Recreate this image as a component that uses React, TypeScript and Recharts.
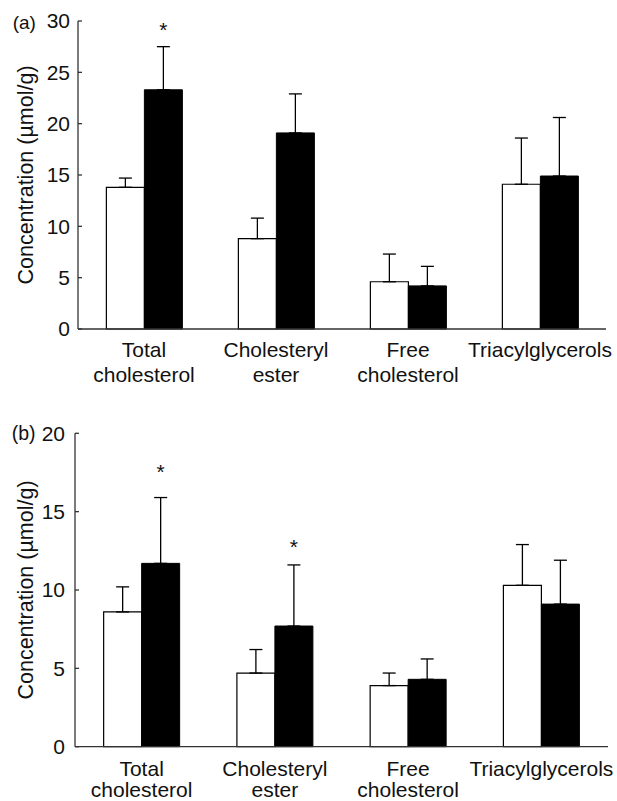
import React from 'react';
import { BarChart, Bar, XAxis, YAxis, ErrorBar, LabelList } from 'recharts';

const categories = ['Total\ncholesterol', 'Cholesteryl\nester', 'Free\ncholesterol', 'Triacylglycerols'];

// panel (a)
const aWhite = [13.8, 8.8, 4.6, 14.1];
const aWhiteSd = [0.9, 2.0, 2.7, 4.5];
const aBlack = [23.3, 19.1, 4.2, 14.9];
const aBlackSd = [4.2, 3.8, 1.9, 5.7];
const aStar = [29.6, null, null, null];
const aTicks = [0, 5, 10, 15, 20, 25, 30];

// panel (b)
const bWhite = [8.6, 4.7, 3.9, 10.3];
const bWhiteSd = [1.6, 1.5, 0.8, 2.6];
const bBlack = [11.7, 7.7, 4.3, 9.1];
const bBlackSd = [4.2, 3.9, 1.3, 2.8];
const bStar = [17.8, 13.0, null, null];
const bTicks = [0, 5, 10, 15, 20];

const FONT = '"Liberation Sans", Arial, Helvetica, sans-serif';
const INK = '#111';
const AXIS = '#333';

function buildRows(white: number[], whiteSd: number[], black: number[], blackSd: number[], star: (number | null)[]) {
  return categories.map((name, i) => ({
    name,
    white: white[i],
    whiteErr: [0, whiteSd[i]],
    black: black[i],
    blackErr: [0, blackSd[i]],
    star: star[i],
  }));
}

const CategoryTick = (props: any) => {
  const { x, y, payload, firstDy, lineGap } = props;
  const lines = String(payload.value).split('\n');
  return (
    <text x={x} y={y + firstDy} textAnchor="middle" fontSize={21} fill={INK} fontFamily={FONT}>
      {lines.map((l, i) => (
        <tspan key={i} x={x} dy={i === 0 ? 0 : lineGap}>
          {l}
        </tspan>
      ))}
    </text>
  );
};

const makeStar = (values: number[], stars: (number | null)[]) => (props: any) => {
  const { x, y, width, height, index } = props;
  const s = stars[index];
  if (s == null) return null;
  const perUnit = Math.abs(height) / values[index];
  const base = y + Math.abs(height);
  const cy = base - s * perUnit;
  return (
    <text x={x + width / 2} y={cy + 11.5} textAnchor="middle" fontSize={21} fill={INK} fontFamily={FONT}>
      *
    </text>
  );
};

const YLabel = (cx: number) => (props: any) => {
  const { viewBox } = props;
  const cy = viewBox.y + viewBox.height / 2;
  return (
    <text x={cx} y={cy} transform={`rotate(-90, ${cx}, ${cy})`} textAnchor="middle" fontSize={21.5} fill={INK} fontFamily={FONT}>
      Concentration (µmol/g)
    </text>
  );
};

interface PanelProps {
  rows: any[];
  values: number[];
  stars: (number | null)[];
  ticks: number[];
  max: number;
  height: number;
  top: number;
  right: number;
  axisWidth: number;
  xAxisHeight: number;
  tickMargin: number;
  firstDy: number;
  lineGap: number;
}

function Panel(p: PanelProps) {
  return (
    <BarChart
      width={617}
      height={p.height}
      data={p.rows}
      margin={{ top: p.top, right: p.right, bottom: 0, left: 0 }}
      barCategoryGap="21.5%"
      barGap={0}
    >
      <XAxis
        dataKey="name"
        height={p.xAxisHeight}
        tickLine={false}
        tickSize={0}
        tickMargin={0}
        interval={0}
        axisLine={{ stroke: AXIS, strokeWidth: 1.3 }}
        tick={(t: any) => <CategoryTick {...t} firstDy={p.firstDy} lineGap={p.lineGap} />}
      />
      <YAxis
        width={p.axisWidth}
        domain={[0, p.max]}
        ticks={p.ticks}
        interval={0}
        tickSize={-4}
        tickMargin={p.tickMargin}
        axisLine={{ stroke: AXIS, strokeWidth: 1.3 }}
        tickLine={{ stroke: AXIS, strokeWidth: 1.3 }}
        tick={{ fontSize: 21, fill: INK, fontFamily: FONT }}
        label={{ content: YLabel(32.5) }}
      />
      <Bar dataKey="white" fill="#fff" stroke="#000" strokeWidth={1.2} isAnimationActive={false}>
        <ErrorBar dataKey="whiteErr" direction="y" width={6.5} stroke="#000" strokeWidth={1.3} />
      </Bar>
      <Bar dataKey="black" fill="#000" stroke="#000" strokeWidth={1} isAnimationActive={false}>
        <ErrorBar dataKey="blackErr" direction="y" width={6.5} stroke="#000" strokeWidth={1.3} />
        <LabelList dataKey="star" content={makeStar(p.values, p.stars)} />
      </Bar>
    </BarChart>
  );
}

export default function App() {
  const rowsA = buildRows(aWhite, aWhiteSd, aBlack, aBlackSd, aStar);
  const rowsB = buildRows(bWhite, bWhiteSd, bBlack, bBlackSd, bStar);
  return (
    <div style={{ position: 'absolute', left: 0, top: 0, width: 617, height: 801, background: '#fff', fontFamily: FONT }}>
      <div style={{ position: 'absolute', left: 0, top: 0 }}>
        <Panel
          rows={rowsA}
          values={aBlack}
          stars={aStar}
          ticks={aTicks}
          max={30}
          height={400}
          top={21}
          right={11}
          axisWidth={78}
          xAxisHeight={71}
          tickMargin={12}
          firstDy={27.7}
          lineGap={25}
        />
      </div>
      <div style={{ position: 'absolute', left: 0, top: 400 }}>
        <Panel
          rows={rowsB}
          values={bBlack}
          stars={bStar}
          ticks={bTicks}
          max={20}
          height={401}
          top={33.3}
          right={9}
          axisWidth={75}
          xAxisHeight={54.3}
          tickMargin={14}
          firstDy={29}
          lineGap={21}
        />
      </div>
      <svg width={617} height={801} style={{ position: 'absolute', left: 0, top: 0, pointerEvents: 'none' }}>
        <text x={12.7} y={29} fontSize={19} fill={INK} fontFamily={FONT}>(a)</text>
        <text x={11.7} y={440} fontSize={19.5} fill={INK} fontFamily={FONT}>(b)</text>
      </svg>
    </div>
  );
}
